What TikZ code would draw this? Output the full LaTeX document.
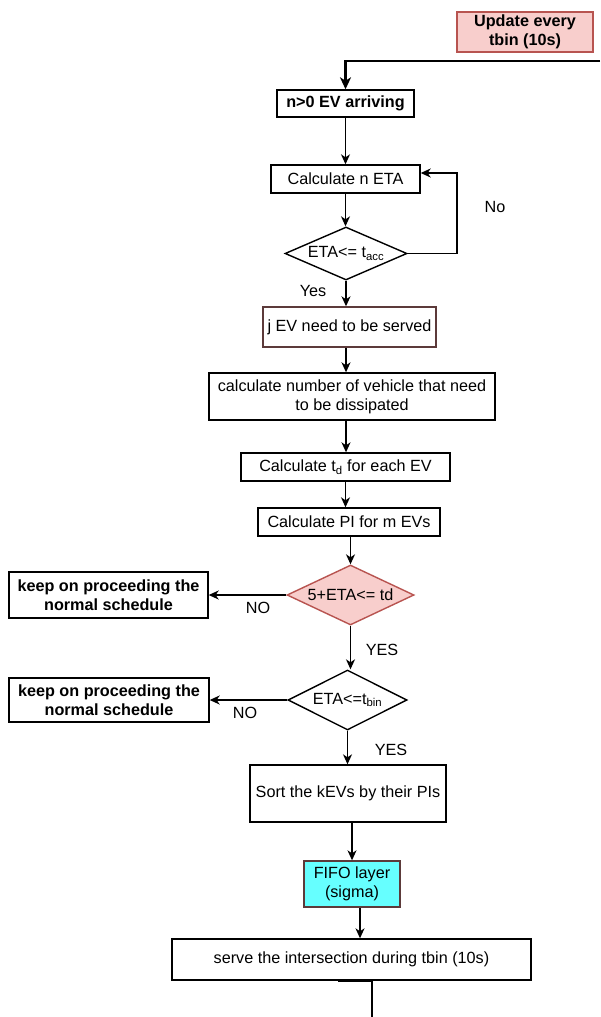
\documentclass[tikz,border=0pt]{standalone}
\usepackage{fontspec}
\setmainfont{Liberation Sans}
\usetikzlibrary{arrows.meta,shapes.geometric}
\definecolor{pinkfill}{HTML}{F8CECC}
\definecolor{pinkdraw}{HTML}{B85450}
\definecolor{cyanfill}{HTML}{66FFFF}
\definecolor{browndraw}{HTML}{5C3A3A}
\begin{document}
\begin{tikzpicture}[x=1pt,y=-1pt,
  txt/.style={font=\fontsize{16.2}{19}\selectfont},
  btxt/.style={font=\fontsize{16.2}{19}\selectfont\bfseries},
  box/.style={draw=black, line width=1.4pt, rectangle, inner sep=0pt, align=center, txt},
  dia/.style={draw=black, line width=1.4pt, diamond, inner sep=0pt},
  arr/.style={line width=1.4pt, -{Stealth[length=10pt,width=9pt,inset=3pt]}},
  thickarr/.style={line width=2.8pt, -{Stealth[length=12pt,width=11pt,inset=3.5pt]}},
  lbl/.style={txt, inner sep=0pt}]
\useasboundingbox[fill=white] (0,0) rectangle (600,1017);
% nodes
\node[box, fill=pinkfill, draw=pinkdraw, btxt, minimum width=136pt, minimum height=40pt] (upd) at (525,32) {Update every\\tbin (10s)};
\node[box, btxt, minimum width=137pt, minimum height=27pt] (n0) at (345.5,103.5) {n>0 EV arriving};
\node[box, minimum width=149pt, minimum height=28pt] (calcn) at (345.5,179) {Calculate n ETA};
\node[dia, minimum width=122pt, minimum height=53pt] (d1) at (346,253.5) {};
\node[lbl] at (d1) {ETA<= t\textsubscript{acc}};
\node[box, draw=browndraw, minimum width=173pt, minimum height=40pt] (jev) at (349.5,327) {j EV need to be served};
\node[box, minimum width=286pt, minimum height=47pt] (calcnum) at (352,396.5) {calculate number of vehicle that need\\to be dissipated};
\node[box, minimum width=209pt, minimum height=28pt] (td) at (345.5,467) {Calculate t\textsubscript{d} for each EV};
\node[box, minimum width=182pt, minimum height=28pt] (pi) at (349,522) {Calculate PI for m EVs};
\node[dia, fill=pinkfill, draw=pinkdraw, minimum width=127pt, minimum height=60pt] (d2) at (350.5,595) {};
\node[lbl] at (d2) {5+ETA<= td};
\node[box, btxt, minimum width=199pt, minimum height=46pt] (keep1) at (108.5,595) {keep on proceeding the\\normal schedule};
\node[dia, minimum width=119pt, minimum height=60pt] (d3) at (347.5,700) {};
\node[lbl] at (d3) {ETA<=t\textsubscript{bin}};
\node[box, btxt, minimum width=200pt, minimum height=44pt] (keep2) at (109,700) {keep on proceeding the\\normal schedule};
\node[box, minimum width=196pt, minimum height=57pt] (sort) at (348,793.5) {Sort the kEVs by their PIs};
\node[box, fill=cyanfill, draw=browndraw, minimum width=96pt, minimum height=46pt] (fifo) at (352,884) {FIFO layer\\(sigma)};
\node[box, minimum width=359pt, minimum height=41pt] (serve) at (351.5,959.5) {serve the intersection during tbin (10s)};
% labels
\node[lbl] (lno1) at (495,207) {No};
\node[lbl] (lyes1) at (313,291) {Yes};
\node[lbl] (lno2) at (258,608) {NO};
\node[lbl] (lyes2) at (382,650) {YES};
\node[lbl] (lno3) at (245,713) {NO};
\node[lbl] (lyes3) at (391,750) {YES};
% coordinates
\coordinate (tr) at (600,61);
\coordinate (lc) at (457,173);
\coordinate (bot) at (372,1017);
% connectors
\draw[thickarr] (tr) -| (n0.north);
\draw[arr] (n0.south) -- (n0.south |- calcn.north);
\draw[arr] (calcn.south) -- (calcn.south |- d1.north);
\draw[arr] (d1.east) -| (lc) -- (calcn.east |- lc);
\draw[arr] (d1.south) -- (d1.south |- jev.north);
\draw[arr] (d1.south |- jev.south) -- (d1.south |- calcnum.north);
\draw[arr] (d1.south |- calcnum.south) -- (d1.south |- td.north);
\draw[arr] (td.south) -- (td.south |- pi.north);
\draw[arr] (d2.north |- pi.south) -- (d2.north);
\draw[arr] (d2.west) -- (keep1.east);
\draw[arr] (d2.south) -- (d2.south |- d3.north);
\draw[arr] (d3.west) -- (keep2.east);
\draw[arr] (d3.south) -- (d3.south |- sort.north);
\draw[arr] (fifo.north |- sort.south) -- (fifo.north);
\draw[arr] ([xshift=8pt]fifo.south) -- ([xshift=8pt]fifo.south |- serve.north);
\draw[line width=2.8pt] ([xshift=-14pt]serve.south) -- (serve.south -| bot) -- (bot);
\end{tikzpicture}
\end{document}
